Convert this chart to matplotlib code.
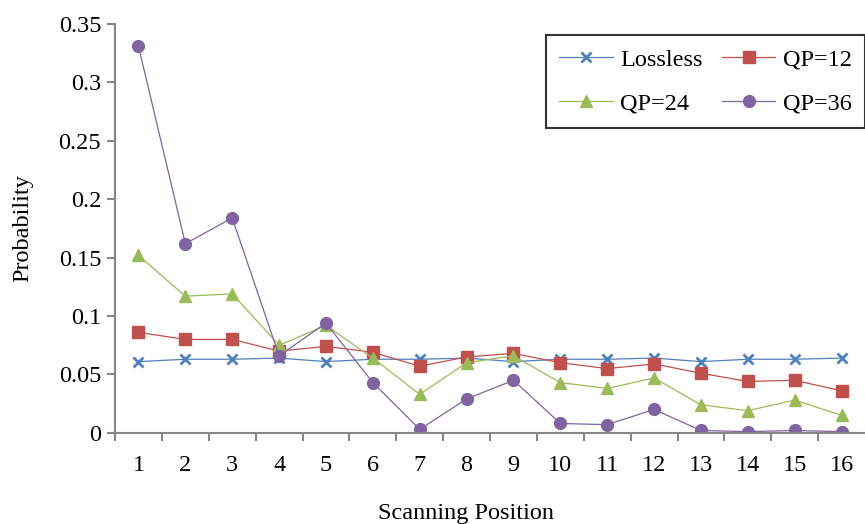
import matplotlib.pyplot as plt

plt.rcParams['font.family'] = ['Liberation Serif', 'DejaVu Serif']

positions = list(range(1, 17))
lossless = [0.061, 0.063, 0.063, 0.064, 0.061, 0.063, 0.063, 0.064,
            0.061, 0.063, 0.063, 0.064, 0.061, 0.063, 0.063, 0.064]
qp12 = [0.086, 0.080, 0.080, 0.070, 0.074, 0.069, 0.057, 0.065,
        0.068, 0.060, 0.055, 0.059, 0.051, 0.044, 0.045, 0.036]
qp24 = [0.152, 0.117, 0.119, 0.075, 0.092, 0.064, 0.033, 0.060,
        0.066, 0.043, 0.038, 0.047, 0.024, 0.019, 0.028, 0.015]
qp36 = [0.331, 0.162, 0.184, 0.066, 0.094, 0.043, 0.003, 0.029,
        0.045, 0.008, 0.007, 0.020, 0.002, 0.001, 0.002, 0.001]
yticks = [0, 0.05, 0.1, 0.15, 0.2, 0.25, 0.3, 0.35]
ytick_labels = ['0', '0.05', '0.1', '0.15', '0.2', '0.25', '0.3', '0.35']

fs = 17.5
fig = plt.figure(figsize=(8.65, 5.24), dpi=100)
ax = fig.add_axes([0.133, 0.174, 0.867, 0.78])

l0, = ax.plot(positions, lossless, color='#4F81BD', marker='x', markersize=7, mew=2, lw=0.9, label='Lossless')
l1, = ax.plot(positions, qp12, color='#C0504D', marker='s', markersize=8.5, lw=0.9, label='QP=12')
l2, = ax.plot(positions, qp24, color='#9BBB59', marker='^', markersize=8.5, lw=0.9, label='QP=24')
l3, = ax.plot(positions, qp36, color='#8064A2', marker='o', markersize=8.5, lw=0.9, label='QP=36')

ax.set_xlim(0.5, 16.5)
ax.set_ylim(0, 0.35)
ax.set_yticks(yticks)
ax.set_yticklabels(ytick_labels)
ax.set_xticks(positions)
ax.set_xticks([p + 0.5 for p in range(0, 16)], minor=True)
ax.tick_params(axis='x', which='major', length=0, pad=16, labelsize=fs)
ax.tick_params(axis='x', which='minor', length=6, width=1.5, color='#868686', direction='out')
ax.tick_params(axis='y', length=6, width=1.5, color='#868686', labelsize=fs, pad=4)

for s in ['top', 'right']:
    ax.spines[s].set_visible(False)
for s in ['left', 'bottom']:
    ax.spines[s].set_color('#868686')
    ax.spines[s].set_linewidth(1.5)

ax.set_xlabel('Scanning Position', fontsize=fs)
ax.xaxis.set_label_coords(0.468, -0.172)
ax.set_ylabel('Probability', fontsize=fs, labelpad=18)

# Excel fills the legend row by row
leg = ax.legend([l0, l2, l1, l3], ['Lossless', 'QP=24', 'QP=12', 'QP=36'],
                ncol=2, loc='upper right', bbox_to_anchor=(1.0, 0.973), borderaxespad=0,
                fontsize=fs, frameon=True, fancybox=False, edgecolor='black',
                handlelength=2.2, columnspacing=0.8, handletextpad=0.3,
                borderpad=0.55, labelspacing=0.9)
leg.get_frame().set_linewidth(1.5)

plt.savefig('out.png', dpi=100)
